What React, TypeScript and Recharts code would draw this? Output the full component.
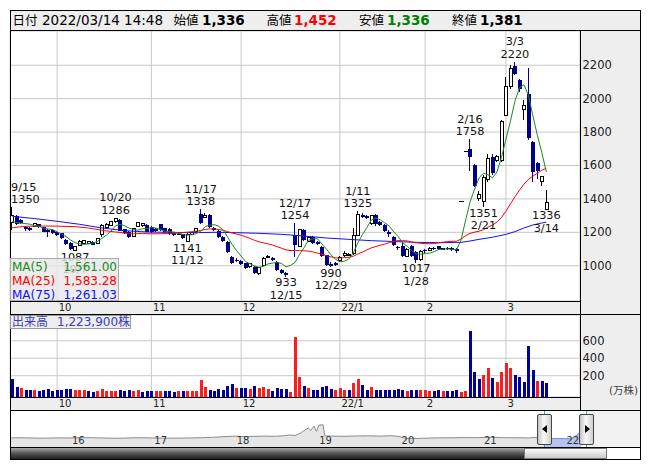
import React from 'react';
import { ComposedChart, Bar, Line, XAxis, YAxis, CartesianGrid, AreaChart, Area } from 'recharts';

// ---------------- data ----------------
const openP = [
  1258, 1298, 1272, 1230, 1224, 1234, 1248, 1230, 1212, 1214,
  1204, 1194, 1154, 1134, 1094, 1122, 1136, 1132, 1140, 1134,
  1188, 1230, 1242, 1262, 1274, 1218, 1204, 1174, 1234, 1238,
  1244, 1230, 1222, 1248, 1224, 1222, 1198, 1192, 1188, 1146,
  1188, 1204, 1310, 1290, 1304, 1228, 1210, 1174, 1144, 1054,
  1036, 1030, 1014, 994, 994, 952, 1004, 1052, 1046, 1024,
  972, 954, 1096, 1184, 1118, 1216, 1146, 1170, 1142, 1112,
  1062, 1012, 1018, 1030, 1060, 1064, 1074, 1184, 1304, 1296,
  1252, 1304, 1262, 1244, 1200, 1172, 1110, 1120, 1056, 1116,
  1084, 1040, 1096, 1090, 1104, 1116, 1100, 1104, 1106, 1100,
  1389, 1689, 1700, 1600, 1405, 1385, 1515, 1650, 1630, 1628,
  1900, 2075, 2195, 2110, 1935, 2025, 1740, 1614, 1504, 1336,
];
const highP = [
  1350, 1302, 1280, 1236, 1230, 1258, 1252, 1234, 1218, 1218,
  1210, 1198, 1160, 1140, 1118, 1152, 1156, 1150, 1146, 1166,
  1248, 1254, 1268, 1286, 1280, 1222, 1208, 1228, 1262, 1258,
  1250, 1236, 1226, 1252, 1228, 1226, 1202, 1196, 1192, 1194,
  1204, 1228, 1338, 1318, 1310, 1234, 1214, 1178, 1148, 1060,
  1044, 1034, 1018, 1018, 998, 992, 1050, 1066, 1050, 1030,
  978, 960, 1096, 1254, 1220, 1222, 1180, 1176, 1148, 1116,
  1066, 1020, 1024, 1056, 1090, 1078, 1224, 1325, 1318, 1302,
  1306, 1310, 1268, 1250, 1214, 1176, 1116, 1144, 1104, 1122,
  1090, 1094, 1100, 1110, 1112, 1120, 1108, 1112, 1110, 1108,
  1389, 1689, 1758, 1610, 1450, 1545, 1668, 1670, 1662, 1870,
  2130, 2200, 2220, 2115, 1990, 2184, 1745, 1620, 1540, 1452,
];
const lowP = [
  1214, 1246, 1248, 1208, 1206, 1230, 1226, 1200, 1174, 1188,
  1178, 1160, 1124, 1092, 1087, 1118, 1130, 1128, 1122, 1130,
  1174, 1226, 1238, 1256, 1206, 1190, 1164, 1170, 1230, 1234,
  1200, 1198, 1204, 1208, 1198, 1186, 1180, 1182, 1158, 1141,
  1184, 1200, 1250, 1284, 1228, 1206, 1168, 1142, 1076, 1012,
  1022, 1004, 980, 988, 950, 946, 1000, 1044, 1030, 970,
  948, 933, 1096, 1054, 1110, 1150, 1140, 1132, 1122, 1050,
  1000, 990, 998, 1024, 1054, 1058, 1066, 1176, 1286, 1280,
  1246, 1240, 1240, 1200, 1174, 1120, 1096, 1054, 1050, 1050,
  1017, 1030, 1076, 1086, 1096, 1092, 1094, 1092, 1086, 1076,
  1389, 1689, 1565, 1470, 1385, 1351, 1500, 1542, 1620, 1622,
  1895, 2060, 2140, 2040, 1870, 1755, 1500, 1520, 1478, 1336,
];
const closeP = [
  1300, 1250, 1256, 1222, 1214, 1254, 1230, 1204, 1200, 1194,
  1184, 1164, 1130, 1098, 1114, 1148, 1150, 1144, 1126, 1162,
  1240, 1248, 1262, 1282, 1210, 1198, 1174, 1224, 1258, 1254,
  1204, 1202, 1210, 1214, 1204, 1190, 1186, 1188, 1164, 1190,
  1200, 1222, 1258, 1300, 1234, 1216, 1172, 1148, 1080, 1018,
  1030, 1010, 986, 1012, 956, 988, 1044, 1056, 1036, 976,
  956, 946, 1096, 1124, 1214, 1156, 1172, 1138, 1128, 1056,
  1006, 1000, 1006, 1050, 1076, 1070, 1184, 1304, 1294, 1288,
  1298, 1248, 1244, 1206, 1190, 1126, 1106, 1060, 1100, 1058,
  1036, 1088, 1090, 1106, 1100, 1098, 1102, 1098, 1092, 1089,
  1389, 1689, 1648, 1475, 1428, 1530, 1640, 1555, 1652, 1866,
  2075, 2180, 2150, 2055, 1958, 1765, 1560, 1566, 1534, 1381,
];
// volume in 万株
const volume = [
  162, 70, 59, 37, 37, 37, 25, 37, 48, 25,
  37, 37, 48, 48, 37, 37, 37, 25, 14, 25,
  48, 29, 29, 29, 37, 29, 37, 29, 37, 18,
  29, 29, 29, 29, 29, 29, 14, 29, 29, 29,
  29, 29, 151, 67, 37, 29, 44, 37, 82, 105,
  59, 59, 59, 48, 82, 63, 67, 48, 29, 56,
  48, 48, 18, 646, 181, 82, 59, 37, 37, 67,
  82, 48, 37, 59, 37, 37, 113, 162, 94, 37,
  67, 37, 37, 37, 37, 37, 44, 37, 29, 37,
  37, 37, 37, 29, 29, 33, 29, 29, 29, 33,
  18, 25, 714, 246, 162, 207, 284, 170, 132, 246,
  349, 284, 207, 181, 132, 539, 265, 139, 139, 122.39,
];
const firstDayVolumeUp = false;

const ma5Lead = [1264, 1258, 1255, 1252];
const ma25LeadIdx = [0, 3, 6, 10, 14, 17, 20, 23];
const ma25LeadVal = [1228, 1236, 1238, 1237, 1234, 1226, 1212, 1202];
const ma75Idx = [0, 5, 10, 15, 20, 25, 30, 35, 40, 45, 50, 55, 60, 65, 70, 75, 80, 85, 90, 95, 100, 102, 104, 106, 108, 110, 112, 114, 116, 118, 119];
const ma75Val = [1296, 1282, 1266, 1248, 1226, 1210, 1202, 1200, 1198, 1200, 1198, 1194, 1188, 1178, 1166, 1158, 1150, 1145, 1140, 1138, 1140, 1148, 1158, 1166, 1176, 1188, 1204, 1226, 1244, 1256, 1261.03];

const monthTickIdx = [10, 31, 51, 73, 92, 110];
const monthTickLabels = ['10', '11', '12', '22/1', '2', '3'];
const priceTicks = [1000, 1200, 1400, 1600, 1800, 2000, 2200];
const volTicks = [200, 400, 600];

const annIdx = [0, 23, 42, 63, 77, 102, 112, 14, 39, 61, 71, 90, 105, 119];
const annKind = ['H', 'H', 'H', 'H', 'H', 'H', 'H', 'L', 'L', 'L', 'L', 'L', 'L', 'L'];
const annDate = ['9/15', '10/20', '11/17', '12/17', '1/11', '2/16', '3/3', '10/7', '11/12', '12/15', '12/29', '1/28', '2/21', '3/14'];
const annValue = [1350, 1286, 1338, 1254, 1325, 1758, 2220, 1087, 1141, 933, 990, 1017, 1351, 1336];

// navigator (long history)
const navT = [2015.27, 2015.35, 2015.45, 2015.55, 2015.65, 2015.75, 2015.85, 2015.95, 2016.05, 2016.15, 2016.25, 2016.35, 2016.45, 2016.55, 2016.65, 2016.75, 2016.85, 2016.95, 2017.05, 2017.15, 2017.3, 2017.45, 2017.6, 2017.72, 2017.82, 2017.92, 2018.0, 2018.1, 2018.22, 2018.35, 2018.48, 2018.58, 2018.65, 2018.72, 2018.78, 2018.84, 2018.88, 2018.91, 2018.95, 2018.98, 2019.01, 2019.06, 2019.08, 2019.15, 2019.3, 2019.45, 2019.6, 2019.75, 2019.88, 2019.98, 2020.05, 2020.2, 2020.35, 2020.5, 2020.65, 2020.8, 2020.95, 2021.1, 2021.25, 2021.4, 2021.55, 2021.62, 2021.74, 2021.82, 2021.9, 2022.0, 2022.08, 2022.12, 2022.16, 2022.19];
const navV = [930, 950, 940, 920, 900, 920, 935, 925, 940, 960, 955, 930, 910, 900, 915, 940, 955, 935, 920, 900, 915, 930, 960, 990, 1050, 1090, 1110, 1070, 1090, 1120, 1100, 1150, 1230, 1190, 1400, 1750, 1950, 1700, 2150, 1600, 2250, 2280, 1150, 1120, 1100, 1130, 1150, 1120, 1160, 1090, 900, 880, 920, 940, 950, 970, 960, 1000, 960, 950, 930, 980, 900, 880, 860, 850, 870, 1100, 1350, 1150];
const navYears = [2016, 2017, 2018, 2019, 2020, 2021, 2022];
const navYearLabels = ['16', '17', '18', '19', '20', '21', '22'];
const navSelStart = 2021.74;
const NAV_DOMAIN: [number, number] = [2015.273, 2022.25];

// ---------------- styling constants ----------------
const FONT = '"DejaVu Sans", "Noto Sans CJK JP", sans-serif';
const UP_COLOR = '#000000';
const DOWN_COLOR = '#00008c';
const VOL_UP = '#ff1c1c';
const VOL_DOWN = '#00009c';
const GRID = '#c8c8c8';
const PANEL = '#eeeeee';
const PRICE_DOMAIN: [number, number] = [789, 2405];
const VOL_DOMAIN: [number, number] = [-43, 894];
const EMPTY_SLOTS = 7;
const PLOT_LEFT = 10.05;

const avg = (a: number[]) => a.reduce((s, v) => s + v, 0) / a.length;

const rows: any[] = [];
for (let i = 0; i < closeP.length + EMPTY_SLOTS; i++) {
  const r: any = { idx: i };
  if (i < closeP.length) {
    r.open = openP[i];
    r.high = highP[i];
    r.low = lowP[i];
    r.close = closeP[i];
    r.range = [lowP[i], highP[i]];
    r.volume = volume[i];
    r.volRange = [VOL_DOMAIN[0], volume[i]];
    r.volUp = i === 0 ? firstDayVolumeUp : closeP[i] > closeP[i - 1];
    r.ma5 = i < 4 ? ma5Lead[i] : avg(closeP.slice(i - 4, i + 1));
    if (i < 24) {
      const k = ma25LeadIdx.indexOf(i);
      r.ma25 = k >= 0 ? ma25LeadVal[k] : null;
    } else {
      r.ma25 = avg(closeP.slice(i - 24, i + 1));
    }
    const m = ma75Idx.indexOf(i);
    r.ma75 = m >= 0 ? ma75Val[m] : null;
    const a = annIdx.indexOf(i);
    if (a >= 0) {
      r.annKind = annKind[a];
      r.annDate = annDate[a];
      r.annValue = annValue[a];
      if (annKind[a] === 'H') r.annH = annValue[a];
      else r.annL = annValue[a];
    }
  }
  rows.push(r);
}

const navRows = navT.map((t, i) => ({ t, v: navV[i], sel: t >= navSelStart ? navV[i] : null }));

// ---------------- shapes ----------------
function Candle(props: any) {
  const { x, y, width, height, payload } = props;
  if (!payload || payload.high == null) return <g />;
  const { open, close, high, low } = payload;
  const n = Math.round(x + width / 2);
  const span = high - low;
  if (span === 0) {
    const yy = Math.round(y) + 0.5;
    return <line x1={n - 2.5} x2={n + 2.5} y1={yy} y2={yy} stroke="#000" strokeWidth={1} shapeRendering="crispEdges" />;
  }
  const py = (p: number) => y + ((high - p) / span) * height;
  const up = close >= open;
  const col = up ? UP_COLOR : DOWN_COLOR;
  const yTop = py(Math.max(open, close));
  const yBot = py(Math.min(open, close));
  const h = Math.max(yBot - yTop, 1);
  return (
    <g>
      <line x1={n - 0.5} x2={n - 0.5} y1={y} y2={y + height} stroke={col} strokeWidth={1} shapeRendering="crispEdges" />
      {up ? (
        <rect x={n - 1.5} y={yTop} width={3} height={h} fill="#fff" stroke={col} strokeWidth={1} shapeRendering="crispEdges" />
      ) : (
        <rect x={n - 2} y={yTop} width={4} height={h} fill={col} shapeRendering="crispEdges" />
      )}
    </g>
  );
}

function VolBar(props: any) {
  const { x, y, width, height, payload } = props;
  if (!payload || payload.volume == null) return <g />;
  return <rect x={x} y={y} width={width} height={height} fill={payload.volUp ? VOL_UP : VOL_DOWN} shapeRendering="crispEdges" />;
}

function AnnDot(props: any) {
  const { cx, cy, payload, index } = props;
  const key = 'ann-' + index + '-' + (payload && payload.annKind);
  if (!payload || payload.annKind == null || cy == null || isNaN(cy)) return <g key={key} />;
  const lines = payload.annKind === 'H' ? [String(payload.annDate), String(payload.annValue)] : [String(payload.annValue), String(payload.annDate)];
  const base = payload.annKind === 'H' ? [cy - 16.5, cy - 4] : [cy + 9.5, cy + 22];
  const nearLeft = cx < 30;
  const tx = nearLeft ? PLOT_LEFT + 1 : cx;
  return (
    <g key={key}>
      {lines.map((s, k) => (
        <text key={k} x={tx} y={base[k]} textAnchor={nearLeft ? 'start' : 'middle'} fontSize={11.3} fontFamily={FONT} fill="#111">{s}</text>
      ))}
    </g>
  );
}

function MonthTick(props: any) {
  const { x, y, payload } = props;
  const k = monthTickIdx.indexOf(payload.value);
  return (
    <text x={x + 1.5} y={y + 6.5} dominantBaseline="central" fontSize={10} fontFamily={FONT} fill="#222">{k >= 0 ? monthTickLabels[k] : ''}</text>
  );
}

function RightTick(props: any) {
  const { x, y, payload } = props;
  return (
    <text x={x + 2.5} y={y} dominantBaseline="central" fontSize={11.5} fontFamily={FONT} fill="#222">{payload.value}</text>
  );
}

function NavTick(props: any) {
  const { x, y, payload } = props;
  const k = navYears.indexOf(payload.value);
  return (
    <text x={x + 1} y={y - 7} dominantBaseline="central" fontSize={10} fontFamily={FONT} fill="#333">{k >= 0 ? navYearLabels[k] : ''}</text>
  );
}

// ---------------- html helpers ----------------
const Txt = ({ x, cy, size, color = '#000', bold = false, children, align, width }: any) => (
  <span
    style={{
      position: 'absolute', left: x, top: cy - 0.58 * size, fontSize: size, lineHeight: `${size * 1.2}px`,
      color, fontWeight: bold ? 700 : 400, fontFamily: FONT, whiteSpace: 'nowrap',
      textAlign: align || 'left', width,
    }}
  >
    {children}
  </span>
);

const Box = ({ l, t, w, h, style }: any) => (
  <div style={{ position: 'absolute', left: l, top: t, width: w, height: h, boxSizing: 'border-box', ...style }} />
);

export default function App() {
  return (
    <div style={{ position: 'absolute', left: 0, top: 0, width: 653, height: 470, background: '#fff', overflow: 'hidden' }}>
      {/* backgrounds */}
      <Box l={10} t={10} w={631} h={21} style={{ background: PANEL }} />
      <Box l={580} t={31} w={61} h={379} style={{ background: PANEL }} />
      <Box l={10} t={301} w={570} h={13} style={{ background: PANEL }} />
      <Box l={10} t={397} w={570} h={13} style={{ background: PANEL }} />
      <Box l={586} t={410} w={55} h={37} style={{ background: '#f2f2f2' }} />

      {/* main price chart */}
      <div style={{ position: 'absolute', left: 0, top: 0 }}>
        <ComposedChart width={653} height={314} data={rows} margin={{ top: 31, right: 12, bottom: 0, left: PLOT_LEFT }}>
          <CartesianGrid stroke={GRID} />
          <XAxis dataKey="idx" type="category" ticks={monthTickIdx} interval={0} height={13} tickSize={0} tickMargin={0} axisLine={false} tickLine={false} tick={MonthTick} />
          <YAxis orientation="right" width={61} type="number" domain={PRICE_DOMAIN} ticks={priceTicks} interval={0} allowDataOverflow axisLine={false} tickLine={false} tickSize={0} tickMargin={0} tick={RightTick} />
          <Bar dataKey="range" shape={Candle} isAnimationActive={false} />
          <Line dataKey="ma75" stroke="#1010ff" strokeWidth={1} dot={false} activeDot={false} connectNulls isAnimationActive={false} />
          <Line dataKey="ma25" stroke="#ff0000" strokeWidth={1} dot={false} activeDot={false} connectNulls isAnimationActive={false} />
          <Line dataKey="ma5" stroke="#1a8a1a" strokeWidth={1} dot={false} activeDot={false} isAnimationActive={false} />
          <Line dataKey="annH" stroke="none" dot={AnnDot} activeDot={false} isAnimationActive={false} />
          <Line dataKey="annL" stroke="none" dot={AnnDot} activeDot={false} isAnimationActive={false} />
        </ComposedChart>
      </div>

      {/* volume chart */}
      <div style={{ position: 'absolute', left: 0, top: 315 }}>
        <ComposedChart width={653} height={95} data={rows} margin={{ top: 0, right: 12, bottom: 0, left: PLOT_LEFT }}>
          <CartesianGrid stroke={GRID} />
          <XAxis dataKey="idx" type="category" ticks={monthTickIdx} interval={0} height={13} tickSize={0} tickMargin={0} axisLine={false} tickLine={false} tick={MonthTick} />
          <YAxis orientation="right" width={61} type="number" domain={VOL_DOMAIN} ticks={volTicks} interval={0} allowDataOverflow axisLine={false} tickLine={false} tickSize={0} tickMargin={0} tick={RightTick} />
          <Bar dataKey="volRange" barSize={3} shape={VolBar} isAnimationActive={false} />
        </ComposedChart>
      </div>

      {/* navigator */}
      <div style={{ position: 'absolute', left: 11, top: 411 }}>
        <AreaChart width={575} height={37} data={navRows} margin={{ top: 0, right: 0, bottom: 0, left: 0 }}>
          <XAxis dataKey="t" type="number" domain={NAV_DOMAIN} ticks={navYears} interval={0} height={1} axisLine={false} tickLine={false} tickSize={0} tickMargin={0} tick={NavTick} allowDataOverflow />
          <YAxis hide type="number" domain={[0, 3700]} />
          <Area dataKey="v" type="linear" stroke="#8c8c8c" strokeWidth={1} fill="#e6e6e6" fillOpacity={1} dot={false} activeDot={false} isAnimationActive={false} />
          <Area dataKey="sel" type="linear" stroke="#7890d8" strokeWidth={1} fill="#b5c4f0" fillOpacity={1} dot={false} activeDot={false} isAnimationActive={false} />
        </AreaChart>
      </div>

      {/* navigator handles */}
      <Box l={544} t={410} w={1} h={37} style={{ background: '#38a8cc' }} />
      <Box l={586} t={410} w={1} h={37} style={{ background: '#38a8cc' }} />
      <div style={{ position: 'absolute', left: 537, top: 414, width: 15, height: 31, boxSizing: 'border-box', border: '1px solid #444', borderRadius: 2, background: 'linear-gradient(to right, #c4c4c4, #fafafa 45%, #cfcfcf)' }}>
        <div style={{ position: 'absolute', left: 4, top: 10, width: 0, height: 0, borderTop: '4px solid transparent', borderBottom: '4px solid transparent', borderRight: '5px solid #000' }} />
      </div>
      <div style={{ position: 'absolute', left: 579, top: 414, width: 15, height: 31, boxSizing: 'border-box', border: '1px solid #444', borderRadius: 2, background: 'linear-gradient(to right, #c4c4c4, #fafafa 45%, #cfcfcf)' }}>
        <div style={{ position: 'absolute', left: 5, top: 10, width: 0, height: 0, borderTop: '4px solid transparent', borderBottom: '4px solid transparent', borderLeft: '5px solid #000' }} />
      </div>

      {/* scrollbar */}
      <Box l={11} t={448} w={513} h={11} style={{ background: 'linear-gradient(to bottom, #a8a8a8, #5a5a5a 45%, #1e1e1e)' }} />
      <Box l={524} t={448} w={83} h={11} style={{ background: 'linear-gradient(to bottom, #fbfbfb, #c9c9c9)', border: '1px solid #777' }} />

      {/* frame lines */}
      <Box l={10} t={10} w={631} h={450} style={{ border: '1px solid #000' }} />
      <Box l={10} t={30} w={631} h={1} style={{ background: '#000' }} />
      <Box l={580} t={31} w={1} h={379} style={{ background: '#000' }} />
      <Box l={10} t={301} w={570} h={1} style={{ background: '#000' }} />
      <Box l={10} t={314} w={631} h={1} style={{ background: '#000' }} />
      <Box l={10} t={397} w={570} h={1} style={{ background: '#000' }} />
      <Box l={10} t={410} w={631} h={1} style={{ background: '#000' }} />
      <Box l={10} t={447} w={631} h={1} style={{ background: '#000' }} />

      {/* header */}
      <Txt x={12.5} cy={20} size={12.5}>日付</Txt>
      <Txt x={42} cy={20} size={13.5}>2022/03/14 14:48</Txt>
      <Txt x={173.5} cy={20} size={12.5}>始値</Txt>
      <Txt x={202} cy={20} size={13.5} bold>1,336</Txt>
      <Txt x={266.5} cy={20} size={12.5}>高値</Txt>
      <Txt x={294} cy={20} size={13.5} bold color="#ff0000">1,452</Txt>
      <Txt x={359} cy={20} size={12.5}>安値</Txt>
      <Txt x={387} cy={20} size={13.5} bold color="#008000">1,336</Txt>
      <Txt x={452} cy={20} size={12.5}>終値</Txt>
      <Txt x={480} cy={20} size={13.5} bold>1,381</Txt>

      {/* MA legend */}
      <Box l={10} t={258} w={109} h={43} style={{ background: 'rgba(232,232,232,0.82)', border: '1px solid #aaa' }} />
      <Txt x={12} cy={266.7} size={12} color="#1a8a1a">MA(5)</Txt>
      <Txt x={40} width={77} align="right" cy={266.7} size={12} color="#1a8a1a">1,561.00</Txt>
      <Txt x={12} cy={281} size={12} color="#ff0000">MA(25)</Txt>
      <Txt x={40} width={77} align="right" cy={281} size={12} color="#ff0000">1,583.28</Txt>
      <Txt x={12} cy={294.5} size={12} color="#1010ff">MA(75)</Txt>
      <Txt x={40} width={77} align="right" cy={294.5} size={12} color="#1010ff">1,261.03</Txt>

      {/* volume legend */}
      <Box l={10} t={315} w={121} h={14} style={{ background: PANEL, border: '1px solid #999' }} />
      <Txt x={12} cy={322} size={12} color="#3c3cc0">出来高</Txt>
      <Txt x={57} cy={322} size={12} color="#3c3cc0">1,223,900株</Txt>
      <Txt x={609} cy={390.5} size={10.5} color="#444">(万株)</Txt>
    </div>
  );
}
